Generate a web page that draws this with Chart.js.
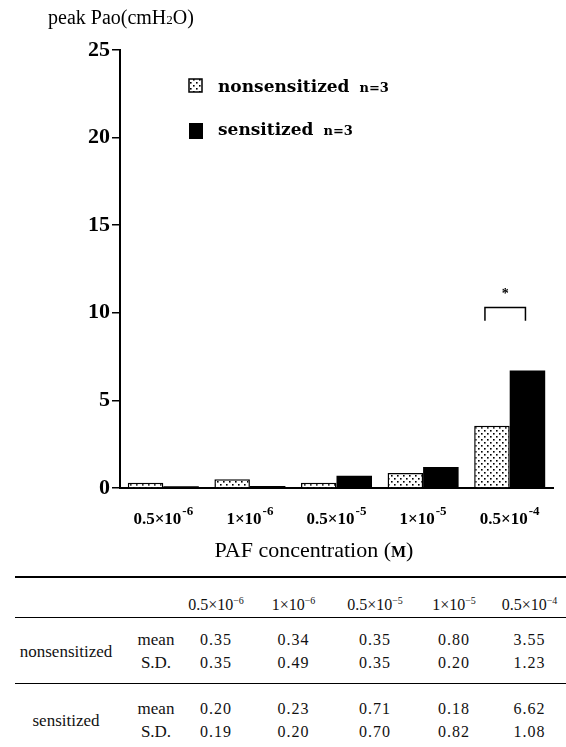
<!DOCTYPE html>
<html lang="en">
<head>
<meta charset="UTF-8">
<title>peak Pao vs PAF concentration</title>
<script src="https://cdn.jsdelivr.net/npm/chart.js"></script>
<style>
    body {margin:0; width:566px; height:747px; position:relative; overflow:hidden; background:#fff; font-family:'Liberation Serif',serif; color:#111;}
    #chartBox {position:absolute; left:0; top:0; width:566px; height:565px;}
    #stats {position:absolute; left:15px; top:576px; width:551px; border-collapse:collapse; table-layout:fixed; font-size:16px;}
    #stats td {padding:0; white-space:nowrap; overflow:visible; text-align:center; line-height:23px;}
    #stats tr.head td {border-top:2px solid #000; border-bottom:1px solid #000; padding-top:10px; padding-bottom:0; line-height:25px;}
    #stats tr.first td {padding-top:10px;}
    #stats tr.last td, #stats td.grp1 {padding-bottom:9px; border-bottom:1px solid #000;}
    #stats tr.first2 td {padding-top:13px;}
    #stats td.grp, #stats td.grp1 {vertical-align:middle; font-size:17px;}
    #stats td.stat {padding-left:15px; font-size:17px;}
    #stats td.num {letter-spacing:1px;}
    #stats sup {font-size:10px;}
</style>
</head>
<body>
<div id="chartBox"><canvas id="chart" width="566" height="565"></canvas></div>
<table id="stats"></table>
<script>
// bar chart data
const categories = ['0.5×10⁻⁶', '1×10⁻⁶', '0.5×10⁻⁵', '1×10⁻⁵', '0.5×10⁻⁴'];
const tickBase = ['0.5×10', '1×10', '0.5×10', '1×10', '0.5×10'];
const tickExp = ['-6', '-6', '-5', '-5', '-4'];
const nonsensitized = [0.3, 0.5, 0.3, 0.85, 3.55];
const sensitized = [0.1, 0.12, 0.7, 1.2, 6.7];
const yTickStep = 5, yMax = 25;
const sigIndex = 4, sigTop = 10.3, sigFoot = 9.55, starLevel = 11.2;

// table under the chart
const headBase = ['0.5×10', '1×10', '0.5×10', '1×10', '0.5×10'];
const headExp = ['−6', '−6', '−5', '−5', '−4'];
const nonsensMean = ['0.35', '0.34', '0.35', '0.80', '3.55'];
const nonsensSD = ['0.35', '0.49', '0.35', '0.20', '1.23'];
const sensMean = ['0.20', '0.23', '0.71', '0.18', '6.62'];
const sensSD = ['0.19', '0.20', '0.70', '0.82', '1.08'];

const colW = [102, 63, 72, 83, 80, 78, 73];
const cells = arr => arr.map(v => `<td class="num">${v}</td>`).join('');
document.getElementById('stats').innerHTML =
    '<colgroup>' + colW.map(w => `<col style="width:${w}px">`).join('') + '</colgroup>' +
    '<tr class="head"><td></td><td></td>' + headBase.map((b, i) => `<td>${b}<sup>${headExp[i]}</sup></td>`).join('') + '</tr>' +
    `<tr class="first"><td class="grp1" rowspan="2">nonsensitized</td><td class="stat">mean</td>${cells(nonsensMean)}</tr>` +
    `<tr class="last"><td class="stat">S.D.</td>${cells(nonsensSD)}</tr>` +
    `<tr class="first2"><td class="grp" rowspan="2">sensitized</td><td class="stat">mean</td>${cells(sensMean)}</tr>` +
    `<tr><td class="stat">S.D.</td>${cells(sensSD)}</tr>`;

function dotPattern() {
    const c = document.createElement('canvas');
    c.width = 6; c.height = 6;
    const g = c.getContext('2d');
    g.fillStyle = '#fff'; g.fillRect(0, 0, 6, 6);
    g.fillStyle = '#000';
    g.fillRect(1, 1, 1.6, 1.6);
    g.fillRect(4, 4, 1.6, 1.6);
    return g.createPattern(c, 'repeat');
}
const dots = dotPattern();

const SERIF = '"Liberation Serif", serif';
const LEG = '"DejaVu Serif", serif';

const decor = {
    id: 'decor',
    afterDraw(chart) {
        const ctx = chart.ctx, x = chart.scales.x, y = chart.scales.y;
        ctx.save();
        ctx.fillStyle = '#000'; ctx.strokeStyle = '#000';
        ctx.textAlign = 'left'; ctx.textBaseline = 'alphabetic';

        // y axis title
        let px = 48;
        [['peak Pao(cmH', '20px ' + SERIF], ['2', '13px ' + SERIF], ['O)', '20px ' + SERIF]].forEach(([t, f]) => {
            ctx.font = f; ctx.fillText(t, px, 24); px += ctx.measureText(t).width;
        });

        // x tick labels with exponents
        categories.forEach((c, i) => {
            const cx = x.getPixelForValue(i);
            ctx.font = 'bold 17px ' + SERIF; const w1 = ctx.measureText(tickBase[i]).width;
            ctx.font = 'bold 13px ' + SERIF; const w2 = ctx.measureText(tickExp[i]).width;
            const sx = cx - (w1 + w2 + 1) / 2;
            ctx.font = 'bold 17px ' + SERIF; ctx.fillText(tickBase[i], sx, 524);
            ctx.font = 'bold 13px ' + SERIF; ctx.fillText(tickExp[i], sx + w1 + 1, 515);
        });

        // x axis title
        const parts = [['PAF concentration (', '22px ' + SERIF], ['M', 'bold 16px ' + SERIF], [')', '22px ' + SERIF]];
        let tw = 0;
        parts.forEach(([t, f]) => { ctx.font = f; tw += ctx.measureText(t).width; });
        px = 314 - tw / 2;
        parts.forEach(([t, f]) => { ctx.font = f; ctx.fillText(t, px, 557); px += ctx.measureText(t).width; });

        // legend
        ctx.lineWidth = 1.5;
        ctx.fillStyle = dots; ctx.fillRect(189, 79, 13, 13);
        ctx.fillStyle = '#000'; ctx.strokeRect(189, 79, 13, 13);
        ctx.fillRect(189, 123, 14, 16);
        [['nonsensitized', 92], ['sensitized', 135]].forEach(([t, by]) => {
            ctx.font = 'bold 17px ' + LEG; ctx.fillText(t, 218, by);
            const w = ctx.measureText(t).width;
            ctx.font = 'bold 13px ' + LEG; ctx.fillText('n=3', 218 + w + 10, by);
        });

        // significance bracket
        const b0 = chart.getDatasetMeta(0).data[sigIndex], b1 = chart.getDatasetMeta(1).data[sigIndex];
        const l = b0.x - 7, r = b1.x - 2, yt = y.getPixelForValue(sigTop), yf = y.getPixelForValue(sigFoot);
        ctx.lineWidth = 1.5;
        ctx.beginPath();
        ctx.moveTo(l, yf); ctx.lineTo(l, yt); ctx.lineTo(r, yt); ctx.lineTo(r, yf);
        ctx.stroke();
        ctx.font = 'bold 14px ' + SERIF; ctx.textAlign = 'center'; ctx.textBaseline = 'middle';
        ctx.fillText('*', (l + r) / 2, y.getPixelForValue(starLevel) + 3);
        ctx.restore();
    }
};

new Chart(document.getElementById('chart'), {
    type: 'bar',
    data: {
        labels: categories,
        datasets: [
            {label: 'nonsensitized n=3', data: nonsensitized, backgroundColor: dots, borderColor: '#000', borderWidth: 1.5},
            {label: 'sensitized n=3', data: sensitized, backgroundColor: '#000', borderWidth: 0}
        ]
    },
    options: {
        responsive: false,
        animation: false,
        devicePixelRatio: 1,
        layout: {padding: {top: 50, right: 13, left: 0, bottom: 0}},
        datasets: {bar: {categoryPercentage: 0.82, barPercentage: 1}},
        plugins: {legend: {display: false}, tooltip: {enabled: false}},
        scales: {
            x: {
                offset: true,
                ticks: {display: false},
                grid: {display: false},
                border: {display: true, color: '#000', width: 2},
                afterFit: s => { s.height = 77; }
            },
            y: {
                min: 0, max: yMax,
                ticks: {stepSize: yTickStep, color: '#000', padding: 2, font: {family: 'Liberation Serif', size: 22, weight: 'bold'}},
                grid: {drawOnChartArea: false, drawTicks: true, tickLength: 8, color: '#000', lineWidth: 1.5},
                border: {display: true, color: '#000', width: 2},
                afterFit: s => { s.width = 120; }
            }
        }
    },
    plugins: [decor]
});
</script>
</body>
</html>
